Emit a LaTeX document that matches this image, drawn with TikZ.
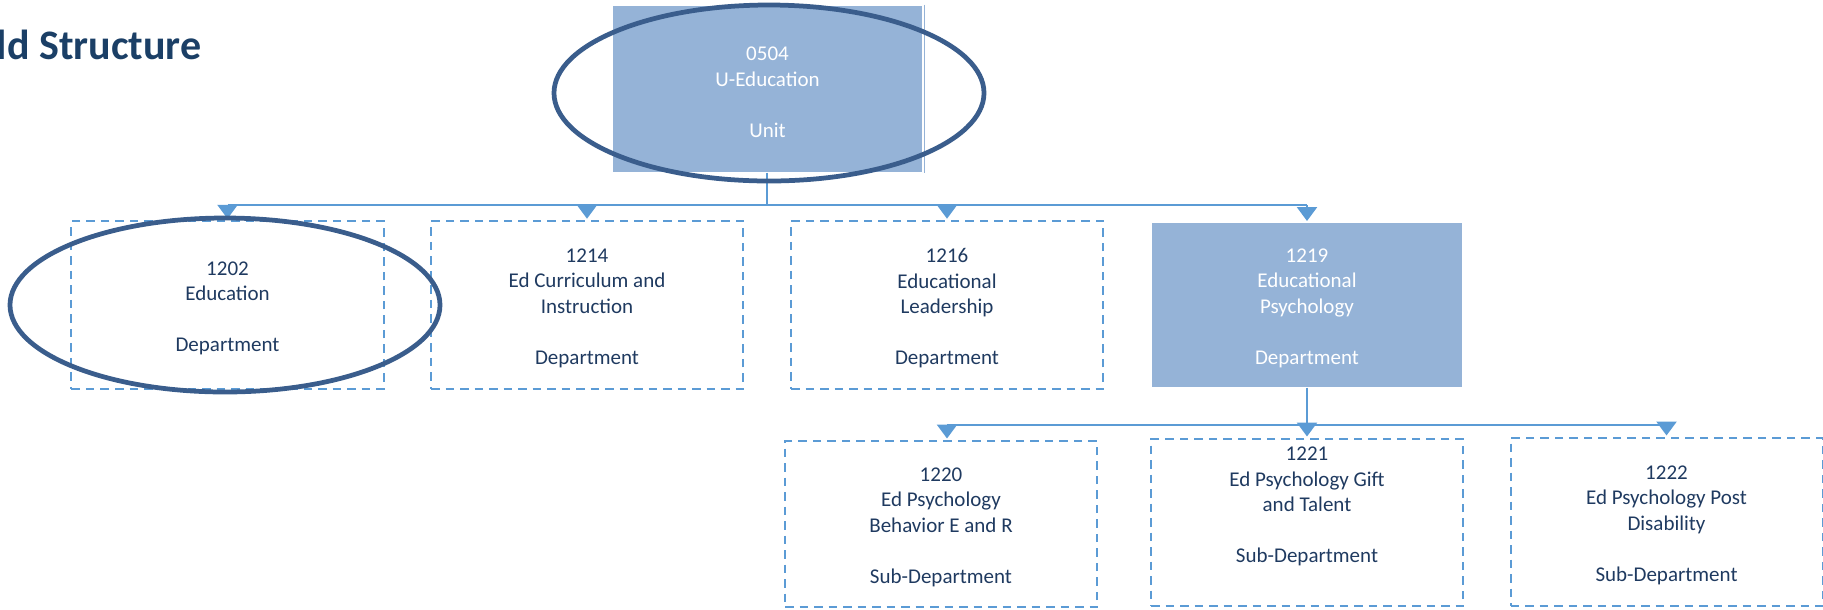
\documentclass[tikz,border=0pt]{standalone}
\usepackage{fontspec}
\setmainfont{Carlito}
\usetikzlibrary{arrows.meta}
\definecolor{boxfill}{HTML}{95B3D7}
\definecolor{linecol}{HTML}{5B9BD5}
\definecolor{ringcol}{HTML}{3A5D8C}
\definecolor{txtcol}{HTML}{1F3A60}
\definecolor{titlecol}{HTML}{1B3F66}
\begin{document}
\begin{tikzpicture}[x=0.4pt,y=-0.4pt,
  lbl/.style={font=\fontsize{8.4pt}{10.2pt}\selectfont, align=center, text=txtcol, inner sep=0pt, yshift=-1.3pt},
  wlbl/.style={lbl, text=white},
  dbox/.style={draw=linecol, dash pattern=on 3.4pt off 2.4pt, line width=0.8pt, minimum width=124.8pt, minimum height=67pt, inner sep=0pt},
  fbox/.style={fill=boxfill, minimum width=124pt, minimum height=66pt, inner sep=0pt},
  conn/.style={draw=linecol, line width=1pt},
  arr/.style={conn, -{Triangle[width=8pt,length=5.6pt]}, shorten >=0.6pt},
  ring/.style={draw=ringcol, line width=1.9pt},
  ttl/.style={font=\fontsize{16.8pt}{20pt}\selectfont\bfseries, text=titlecol, inner sep=0pt}]
\useasboundingbox (0,0) rectangle (1823,609);

\node[ttl, anchor=base east] (title) at (202,59) {ld Structure};

% top unit
\node[fbox, minimum width=123.6pt, minimum height=66.4pt] (top) at (767.5,89) {};
\node[wlbl] (ttop) at (top) {0504\\U-Education\\~\\Unit};
\draw[draw=boxfill, line width=0.4pt] (top.north east) ++(0.8pt,0.4pt) coordinate (te) -- (te |- top.south);

% departments
\node[dbox] (b1202) at (227.5,305) {};
\node[lbl] (t1202) at (b1202) {1202\\Education\\~\\Department};
\node[dbox] (b1214) at (587,305) {};
\node[lbl] (t1214) at (b1214) {1214\\Ed Curriculum and\\Instruction\\~\\Department};
\node[dbox] (b1216) at (947,305) {};
\node[lbl] (t1216) at (b1216) {1216\\Educational\\Leadership\\~\\Department};
\node[fbox, minimum height=65.6pt] (b1219) at (1307,305) {};
\node[wlbl] (t1219) at (b1219) {1219\\Educational\\Psychology\\~\\Department};

% sub-departments
\node[dbox, minimum height=66.4pt] (b1220) at (941,524) {};
\node[lbl] (t1220) at (b1220) {1220\\Ed Psychology\\Behavior E and R\\~\\Sub-Department};
\node[dbox, minimum height=66.8pt] (b1221) at (1307,522.5) {};
\node[lbl, yshift=7.6pt] (t1221) at (b1221) {1221\\Ed Psychology Gift\\and Talent\\~\\Sub-Department};
\node[dbox, minimum height=67.2pt] (b1222) at (1666.5,522) {};
\node[lbl] (t1222) at (b1222) {1222\\Ed Psychology Post\\Disability\\~\\Sub-Department};

% level 1 connectors
\coordinate (j1) at (767,205);
\draw[conn] (top.south -| j1) -- (j1);
\draw[conn] (b1202.north |- j1) -- (b1219.north |- j1);
\draw[arr] (b1202.north |- j1) -- (b1202.north);
\draw[arr] (b1214.north |- j1) -- (b1214.north);
\draw[arr] (b1216.north |- j1) -- (b1216.north);
\draw[arr] (b1219.north |- j1) -- (b1219.north);

% level 2 connectors
\coordinate (j2) at (1307,425);
\coordinate (a1220) at ([xshift=2.4pt]b1220.north);
\draw[conn] (a1220 |- j2) -- (b1222.north |- j2);
\draw[arr] (a1220 |- j2) -- (a1220);
\draw[arr] (b1222.north |- j2) -- (b1222.north);
\draw[arr] (b1219.south) -- (b1221.north);

% highlight rings
\draw[ring] (769,93) ellipse [x radius=215, y radius=88];
\draw[ring] (225,305) ellipse [x radius=215, y radius=87];
\end{tikzpicture}
\end{document}
